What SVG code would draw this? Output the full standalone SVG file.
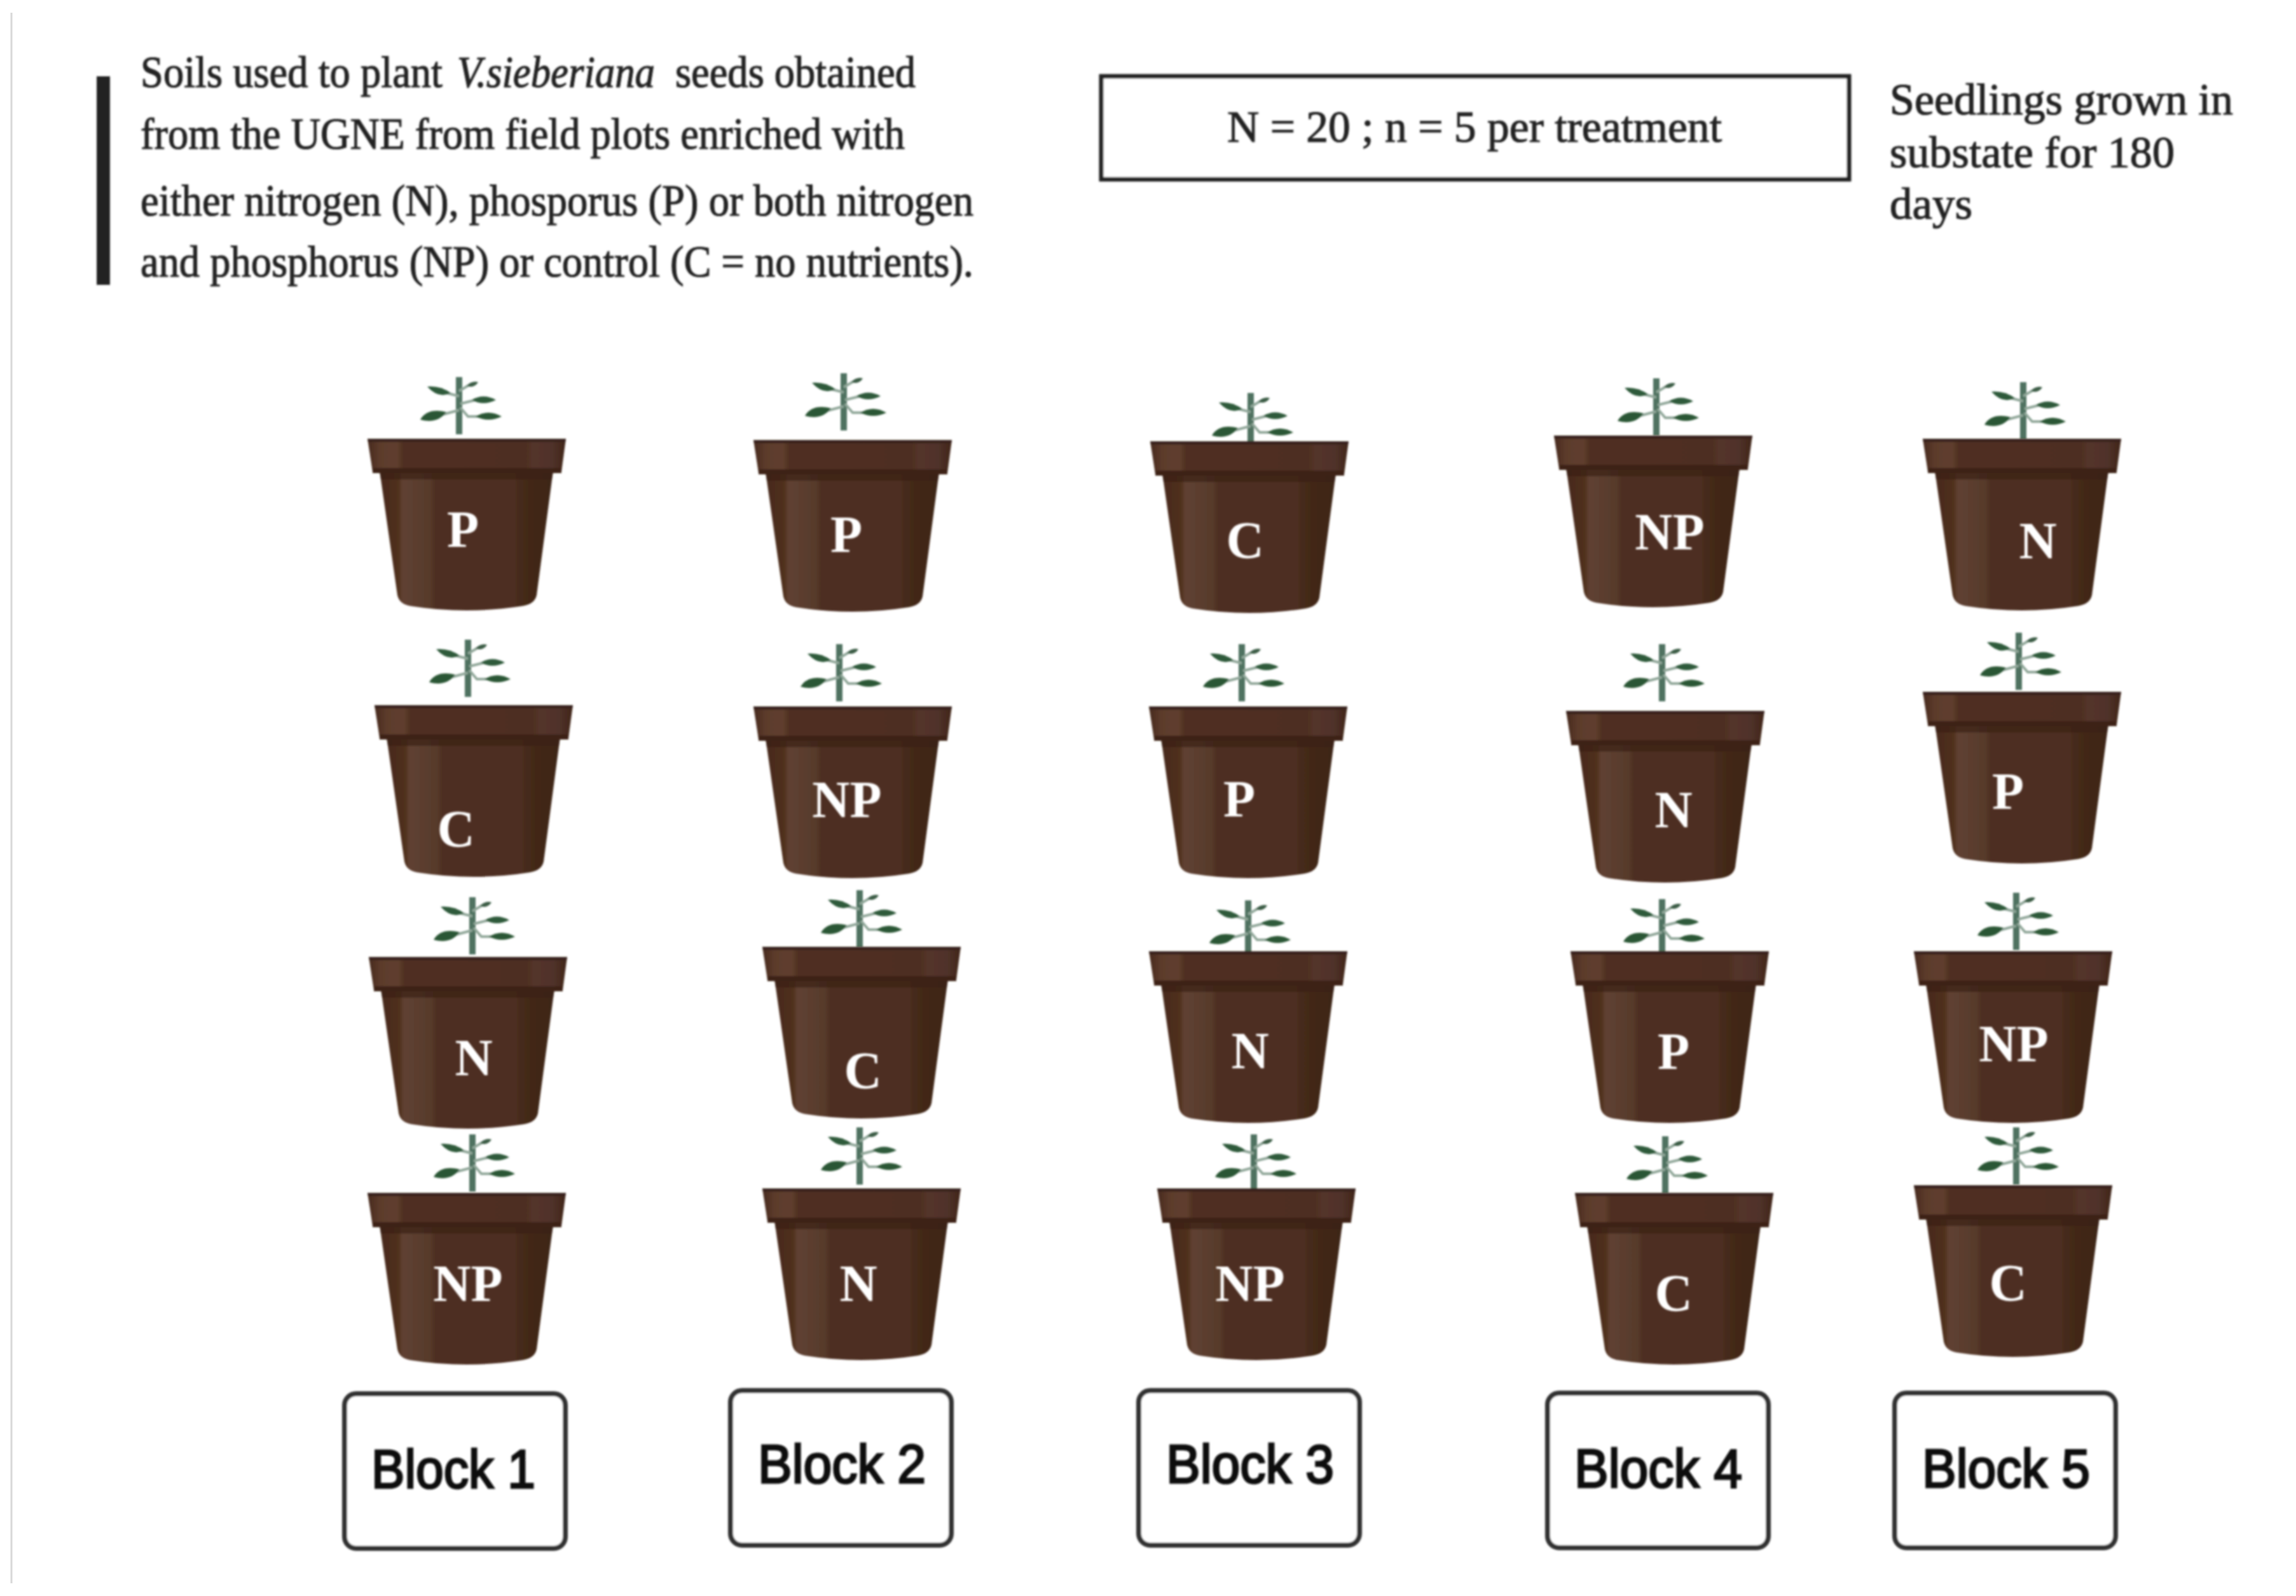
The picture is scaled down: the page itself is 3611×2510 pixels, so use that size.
<svg xmlns="http://www.w3.org/2000/svg" width="3611" height="2510" viewBox="0 0 3611 2510">
<style>
.t{font-family:"Liberation Serif","Times New Roman",serif;font-size:70px;fill:#222;stroke:#222;stroke-width:1.2px;filter:url(#b)}
.l{font-family:"Liberation Serif","Times New Roman",serif;font-size:82px;font-weight:700;fill:#fff;text-anchor:middle;filter:url(#b)}
.k{font-family:"Liberation Sans",Arial,sans-serif;font-size:86px;fill:#111;stroke:#111;stroke-width:3px;text-anchor:middle;filter:url(#b)}
.bx{fill:#fff;stroke:#333;stroke-width:8px;filter:url(#b)}
</style>
<defs>
<filter id="b" x="-10%" y="-10%" width="120%" height="120%"><feGaussianBlur stdDeviation="1.6"/></filter>
<linearGradient id="rim" x1="0" x2="1" y1="0" y2="0">
<stop offset="0" stop-color="#46291c"/><stop offset=".06" stop-color="#5c3b2c"/><stop offset=".15" stop-color="#5f3e2d"/><stop offset=".18" stop-color="#4f2f20"/><stop offset=".8" stop-color="#4e2f20"/><stop offset=".83" stop-color="#53342a"/><stop offset=".93" stop-color="#50322a"/><stop offset="1" stop-color="#3f2517"/>
</linearGradient>
<linearGradient id="body" x1="0" x2="1" y1="0" y2="0">
<stop offset="0" stop-color="#47291b"/><stop offset=".11" stop-color="#50301f"/><stop offset=".13" stop-color="#5f4132"/><stop offset=".29" stop-color="#573a2b"/><stop offset=".32" stop-color="#4d2f21"/><stop offset=".78" stop-color="#4d2f21"/><stop offset=".8" stop-color="#452a1a"/><stop offset="1" stop-color="#3d2415"/>
</linearGradient>
<g id="pot" filter="url(#b)">
<path d="M20 50H293L267 246Q264 260 245 263Q157 277 68 263Q51 260 48 246Z" fill="url(#body)"/>
<path d="M20 52H293L291 64H22Z" fill="#3a2114" opacity=".7"/>
<path d="M1 0H313L306 52H9Z" fill="url(#rim)"/>
<path d="M1 0H313L312 5H2Z" fill="#38201a"/>
<path d="M9 46H306L306 54H9Z" fill="#3d2317"/>
</g>
<g id="plant" filter="url(#b)">
<path d="M0 0V90" stroke="#4f7260" stroke-width="10" fill="none"/>
<path d="M0 52L-30 60M0 30L-20 25M0 22L20 10M2 42L26 36M2 48L14 62L30 62" stroke="#8fa698" stroke-width="4" fill="none"/>
<path d="M-50 15Q-30 13 -13 25Q-32 35 -50 15Z" fill="#2e5a3a"/>
<path d="M12 14Q20 5 30 8Q24 18 12 14Z" fill="#3b5c45"/>
<path d="M20 36Q38 25 58 36Q38 46 20 36Z" fill="#2e5a3a"/>
<path d="M26 62Q46 50 67 62Q46 72 26 62Z" fill="#2a5735"/>
<path d="M-61 67Q-50 48 -20 55Q-34 74 -61 67Z" fill="#2a5735"/>
</g>
</defs>
<rect width="3611" height="2510" fill="#fff"/>
<path d="M18 20V2490" stroke="#d8d8d8" stroke-width="3" fill="none"/>
<g id="intro">
<rect x="152" y="120" width="21" height="328" fill="#222" filter="url(#b)"/>
<text class="t" x="221" y="137" textLength="475" lengthAdjust="spacingAndGlyphs">Soils used to plant</text>
<text class="t" x="719" y="137" textLength="311" lengthAdjust="spacingAndGlyphs" font-style="italic">V.sieberiana</text>
<text class="t" x="1062" y="137" textLength="378" lengthAdjust="spacingAndGlyphs">seeds obtained</text>
<text class="t" x="221" y="234" textLength="1202" lengthAdjust="spacingAndGlyphs">from the UGNE from field plots enriched with</text>
<text class="t" x="221" y="339" textLength="1310" lengthAdjust="spacingAndGlyphs">either nitrogen (N), phosporus (P) or both nitrogen</text>
<text class="t" x="221" y="435" textLength="1310" lengthAdjust="spacingAndGlyphs">and phosphorus (NP) or control (C = no nutrients).</text>
</g>
<g id="summary">
<rect x="1732" y="120" width="1176" height="162" fill="#fff" stroke="#222" stroke-width="7" filter="url(#b)"/>
<text class="t" x="1930" y="223" textLength="778" lengthAdjust="spacingAndGlyphs">N = 20 ; n = 5 per treatment</text>
</g>
<g id="growth-note">
<text class="t" x="2972" y="180" textLength="540" lengthAdjust="spacingAndGlyphs">Seedlings grown in</text>
<text class="t" x="2972" y="263" textLength="448" lengthAdjust="spacingAndGlyphs">substate for 180</text>
<text class="t" x="2972" y="344" textLength="130" lengthAdjust="spacingAndGlyphs">days</text>
</g>
<g id="b1-1"><use href="#plant" x="722" y="593"/><use href="#pot" x="577" y="690"/><text class="l" x="728" y="860">P</text></g>
<g id="b1-2"><use href="#plant" x="736" y="1006"/><use href="#pot" x="588" y="1109"/><text class="l" x="717" y="1331">C</text></g>
<g id="b1-3"><use href="#plant" x="743" y="1411"/><use href="#pot" x="579" y="1505"/><text class="l" x="745" y="1691">N</text></g>
<g id="b1-4"><use href="#plant" x="743" y="1784"/><use href="#pot" x="577" y="1876"/><text class="l" x="736" y="2046">NP</text></g>
<g id="b2-1"><use href="#plant" x="1327" y="587"/><use href="#pot" x="1184" y="692"/><text class="l" x="1331" y="868">P</text></g>
<g id="b2-2"><use href="#plant" x="1320" y="1013"/><use href="#pot" x="1184" y="1111"/><text class="l" x="1332" y="1285">NP</text></g>
<g id="b2-3"><use href="#plant" x="1352" y="1400"/><use href="#pot" x="1198" y="1489"/><text class="l" x="1357" y="1711">C</text></g>
<g id="b2-4"><use href="#plant" x="1352" y="1773"/><use href="#pot" x="1198" y="1869"/><text class="l" x="1350" y="2046">N</text></g>
<g id="b3-1"><use href="#plant" x="1967" y="618"/><use href="#pot" x="1808" y="694"/><text class="l" x="1958" y="877">C</text></g>
<g id="b3-2"><use href="#plant" x="1953" y="1013"/><use href="#pot" x="1806" y="1111"/><text class="l" x="1949" y="1284">P</text></g>
<g id="b3-3"><use href="#plant" x="1963" y="1416"/><use href="#pot" x="1806" y="1496"/><text class="l" x="1966" y="1680">N</text></g>
<g id="b3-4"><use href="#plant" x="1972" y="1784"/><use href="#pot" x="1819" y="1869"/><text class="l" x="1966" y="2046">NP</text></g>
<g id="b4-1"><use href="#plant" x="2605" y="595"/><use href="#pot" x="2443" y="685"/><text class="l" x="2626" y="864">NP</text></g>
<g id="b4-2"><use href="#plant" x="2614" y="1013"/><use href="#pot" x="2462" y="1118"/><text class="l" x="2632" y="1301">N</text></g>
<g id="b4-3"><use href="#plant" x="2614" y="1414"/><use href="#pot" x="2469" y="1496"/><text class="l" x="2632" y="1681">P</text></g>
<g id="b4-4"><use href="#plant" x="2619" y="1787"/><use href="#pot" x="2476" y="1876"/><text class="l" x="2632" y="2061">C</text></g>
<g id="b5-1"><use href="#plant" x="3182" y="601"/><use href="#pot" x="3023" y="690"/><text class="l" x="3205" y="878">N</text></g>
<g id="b5-2"><use href="#plant" x="3175" y="995"/><use href="#pot" x="3023" y="1088"/><text class="l" x="3158" y="1272">P</text></g>
<g id="b5-3"><use href="#plant" x="3171" y="1404"/><use href="#pot" x="3009" y="1496"/><text class="l" x="3167" y="1669">NP</text></g>
<g id="b5-4"><use href="#plant" x="3171" y="1773"/><use href="#pot" x="3009" y="1864"/><text class="l" x="3158" y="2045">C</text></g>
<g id="block-1"><rect class="bx" x="542" y="2192" width="347" height="243" rx="18"/><text class="k" x="713" y="2340" textLength="258" lengthAdjust="spacingAndGlyphs">Block 1</text></g>
<g id="block-2"><rect class="bx" x="1149" y="2187" width="347" height="243" rx="18"/><text class="k" x="1324" y="2332" textLength="264" lengthAdjust="spacingAndGlyphs">Block 2</text></g>
<g id="block-3"><rect class="bx" x="1791" y="2187" width="347" height="243" rx="18"/><text class="k" x="1966" y="2332" textLength="264" lengthAdjust="spacingAndGlyphs">Block 3</text></g>
<g id="block-4"><rect class="bx" x="2434" y="2191" width="347" height="243" rx="18"/><text class="k" x="2608" y="2339" textLength="264" lengthAdjust="spacingAndGlyphs">Block 4</text></g>
<g id="block-5"><rect class="bx" x="2980" y="2191" width="347" height="243" rx="18"/><text class="k" x="3155" y="2339" textLength="264" lengthAdjust="spacingAndGlyphs">Block 5</text></g>
</svg>
